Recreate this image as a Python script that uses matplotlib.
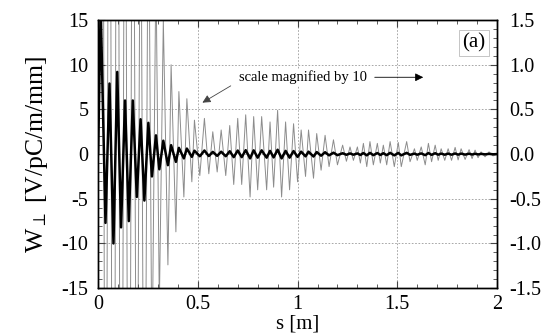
import matplotlib
matplotlib.use("Agg")
import matplotlib.pyplot as plt
from matplotlib.ticker import MultipleLocator, FormatStrFormatter

plt.rcParams["font.family"] = ["Liberation Serif", "DejaVu Serif"]
plt.rcParams["mathtext.fontset"] = "stix"
plt.rcParams["axes.unicode_minus"] = False

# extrema of the wake (s in m, W in V/pC/m/mm)
s = [0.000, 0.013, 0.037, 0.057, 0.077, 0.096, 0.115, 0.135, 0.154, 0.174,
     0.194, 0.213, 0.232, 0.252, 0.270, 0.290, 0.307, 0.327, 0.350, 0.366,
     0.390, 0.405, 0.430, 0.445, 0.470, 0.483, 0.510, 0.533, 0.555, 0.575,
     0.597, 0.617, 0.640, 0.660, 0.680, 0.700, 0.720, 0.740, 0.762, 0.780,
     0.800, 0.820, 0.845, 0.862, 0.880, 0.900, 0.920, 0.940, 0.960, 0.980,
     1.000, 1.018, 1.040, 1.055, 1.080, 1.096, 1.118, 1.138, 1.158, 1.180,
     1.200, 1.226, 1.245, 1.263, 1.280, 1.300, 1.315, 1.330, 1.347, 1.363,
     1.380, 1.400, 1.415, 1.430, 1.447, 1.464, 1.485, 1.505, 1.520, 1.547,
     1.564, 1.586, 1.600, 1.620, 1.640, 1.656, 1.672, 1.690, 1.705, 1.720,
     1.738, 1.755, 1.772, 1.790, 1.805, 1.820, 1.840, 1.860, 1.875, 1.890,
     1.905, 1.920, 1.940, 1.960, 1.980, 2.000]
w = [0.0, 16.5, -7.7, 7.9, -10.0, 9.2, -8.2, 6.0, -7.5, 6.0,
     -4.8, 3.9, -5.2, 3.5, -2.5, 2.1, -1.7, 1.5, -1.24, 1.0,
     -0.87, 0.70, -0.48, 0.62, -0.31, 0.38, -0.24, 0.40, -0.22, 0.25,
     -0.20, 0.27, -0.24, 0.32, -0.34, 0.40, -0.34, 0.44, -0.48, 0.42,
     -0.40, 0.42, -0.40, 0.36, -0.37, 0.49, -0.48, 0.36, -0.40, 0.34,
     -0.31, 0.27, -0.25, 0.27, -0.27, 0.23, -0.18, 0.21, -0.14, 0.16,
     -0.12, 0.10, -0.08, 0.08, -0.07, 0.08, -0.10, 0.12, -0.14, 0.14,
     -0.12, 0.12, -0.10, 0.10, -0.12, 0.14, -0.14, 0.13, -0.14, 0.14,
     -0.085, 0.06, -0.07, 0.08, -0.12, 0.12, -0.085, 0.10, -0.07, 0.06,
     -0.07, 0.06, -0.07, 0.075, -0.065, 0.06, -0.06, 0.05, -0.05, 0.045,
     -0.04, 0.025, -0.03, 0.025, -0.02, 0.0]

left_ticks = [-15, -10, -5, 0, 5, 10, 15]
right_ticks = [-1.5, -1.0, -0.5, 0.0, 0.5, 1.0, 1.5]
x_ticks = [0, 0.5, 1, 1.5, 2]

fig = plt.figure(figsize=(5.42, 3.35), dpi=100)
ax = fig.add_axes([0.181, 0.140, 0.736, 0.800])
ax2 = ax.twinx()

# magnified copy: same numbers against the right-hand scale
ax2.plot(s, w, color="#8c8c8c", lw=0.7)
ax.plot(s, w, color="black", lw=1.8)

ax.set_zorder(ax2.get_zorder() + 1)
ax.patch.set_visible(False)

ax.set_xlim(0, 2)
ax.set_ylim(-15, 15)
ax2.set_ylim(-1.5, 1.5)
ax.set_xticks(x_ticks)
ax.set_yticks(left_ticks)
ax2.set_yticks(right_ticks)
ax.xaxis.set_major_formatter(FormatStrFormatter("%g"))
ax2.yaxis.set_major_formatter(FormatStrFormatter("%.1f"))
ax.xaxis.set_minor_locator(MultipleLocator(0.1))
ax.yaxis.set_minor_locator(MultipleLocator(1))
ax2.yaxis.set_minor_locator(MultipleLocator(0.1))

for a in (ax, ax2):
    a.tick_params(which="both", direction="in", labelsize=14.5, color="#444444")
    a.tick_params(which="major", length=5, width=0.8)
    a.tick_params(which="minor", length=3, width=0.6)
    for sp in a.spines.values():
        sp.set_linewidth(1.0)
ax.tick_params(which="both", top=True)
ax.tick_params(axis="x", pad=5)
ax.tick_params(axis="y", pad=7)
ax2.tick_params(axis="y", pad=9)

ax2.grid(True, which="major", axis="y", ls=(0, (2, 2)), color="#999999", lw=0.6)
for xv in x_ticks[1:-1]:
    ax2.axvline(xv, ls=(0, (2, 2)), color="#999999", lw=0.6)

ax.set_xlabel("s [m]", fontsize=15, labelpad=0)
ax.set_ylabel(r"W$_{\perp}$ [V/pC/m/mm]", fontsize=18.5, labelpad=8)

ax.annotate("", xy=(0.511, 5.6), xytext=(0.677, 7.8),
            arrowprops=dict(arrowstyle="-|>", color="#444444", lw=0.6,
                            mutation_scale=12))
ax.text(1.028, 8.6, "scale magnified by 10", fontsize=10.5, ha="center", va="center",
        bbox=dict(facecolor="white", edgecolor="none", pad=1))
ax.annotate("", xy=(1.644, 8.6), xytext=(1.373, 8.6),
            arrowprops=dict(arrowstyle="-|>", color="black", lw=0.6,
                            mutation_scale=12))
ax.text(1.885, 12.4, "(a)", fontsize=15, ha="center", va="center",
        bbox=dict(facecolor="white", edgecolor="#bbbbbb", lw=0.6, pad=2.5))

fig.savefig("out.png", dpi=100)
